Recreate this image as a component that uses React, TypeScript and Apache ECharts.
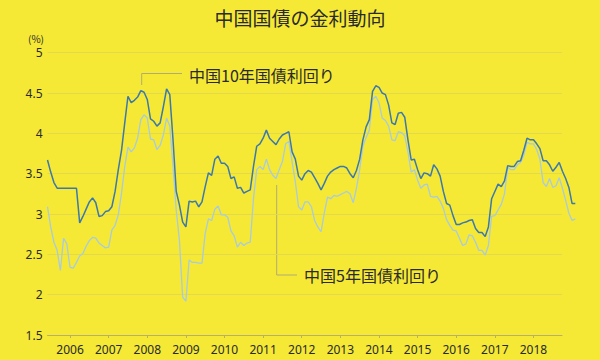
import React, { useEffect, useRef } from "react";
import * as echarts from "echarts";

// Monthly data, June 2005 .. February 2019
const START_YEAR = 2005;
const START_MONTH = 6; // June

const yield10y = [
  3.67, 3.52, 3.39, 3.32, 3.32, 3.32, 3.32, 3.32, 3.32, 3.32,
  2.89, 2.97, 3.06, 3.15, 3.20, 3.14, 2.97, 2.98, 3.03, 3.04,
  3.09, 3.28, 3.55, 3.79, 4.13, 4.46, 4.38, 4.41, 4.45, 4.53,
  4.51, 4.42, 4.18, 4.15, 4.09, 4.13, 4.33, 4.55, 4.48, 3.92,
  3.28, 3.11, 2.90, 2.84, 3.16, 3.15, 3.16, 3.09, 3.15, 3.34,
  3.51, 3.48, 3.68, 3.72, 3.63, 3.63, 3.59, 3.44, 3.46, 3.32,
  3.33, 3.26, 3.28, 3.30, 3.59, 3.84, 3.87, 3.94, 4.04, 3.94,
  3.90, 3.86, 3.93, 3.98, 4.00, 4.02, 3.77, 3.68, 3.47, 3.42,
  3.50, 3.54, 3.52, 3.45, 3.38, 3.30, 3.38, 3.47, 3.52, 3.55,
  3.57, 3.59, 3.59, 3.57, 3.50, 3.45, 3.54, 3.68, 3.92, 4.08,
  4.17, 4.52, 4.59, 4.57, 4.50, 4.48, 4.35, 4.13, 4.11, 4.25,
  4.26, 4.20, 3.92, 3.67, 3.68, 3.55, 3.44, 3.51, 3.50, 3.47,
  3.61, 3.56, 3.47, 3.28, 3.13, 3.11, 2.98, 2.87, 2.87, 2.89,
  2.90, 2.92, 2.93, 2.82, 2.77, 2.77, 2.72, 2.84, 3.19, 3.28,
  3.37, 3.34, 3.41, 3.60, 3.59, 3.59, 3.65, 3.66, 3.79, 3.94,
  3.92, 3.92, 3.87, 3.81, 3.66, 3.66, 3.61, 3.53, 3.58, 3.64,
  3.53, 3.44, 3.33, 3.13, 3.13,
];

const yield5y = [
  3.09, 2.84, 2.65, 2.55, 2.30, 2.70, 2.63, 2.34, 2.33, 2.40,
  2.48, 2.51, 2.60, 2.67, 2.71, 2.70, 2.64, 2.61, 2.58, 2.59,
  2.80, 2.86, 2.99, 3.26, 3.59, 3.83, 3.77, 3.82, 3.94, 4.17,
  4.23, 4.19, 3.93, 3.92, 3.80, 3.85, 3.98, 4.19, 4.09, 3.59,
  3.05, 2.67, 1.97, 1.92, 2.43, 2.40, 2.40, 2.39, 2.39, 2.76,
  2.94, 2.92, 3.06, 3.10, 2.99, 2.99, 2.96, 2.79, 2.73, 2.59,
  2.65, 2.61, 2.64, 2.65, 3.19, 3.55, 3.59, 3.55, 3.68, 3.55,
  3.48, 3.44, 3.55, 3.65, 3.87, 3.90, 3.65, 3.40, 3.09, 3.05,
  3.15, 3.15, 3.09, 2.92, 2.84, 2.78, 3.01, 3.21, 3.19, 3.23,
  3.22, 3.24, 3.26, 3.28, 3.25, 3.14, 3.32, 3.55, 3.84, 3.95,
  4.04, 4.42, 4.46, 4.38, 4.19, 4.16, 4.09, 3.92, 3.91, 4.02,
  4.01, 3.97, 3.77, 3.52, 3.55, 3.42, 3.32, 3.36, 3.37, 3.22,
  3.21, 3.22, 3.16, 3.07, 2.93, 2.86, 2.80, 2.79, 2.70, 2.61,
  2.63, 2.74, 2.73, 2.65, 2.55, 2.55, 2.49, 2.61, 2.97, 2.98,
  3.05, 3.12, 3.25, 3.58, 3.55, 3.55, 3.61, 3.64, 3.73, 3.89,
  3.87, 3.87, 3.80, 3.68, 3.39, 3.34, 3.44, 3.33, 3.35, 3.45,
  3.32, 3.17, 3.01, 2.92, 2.94,
];

const yearTicks = [2006, 2007, 2008, 2009, 2010, 2011, 2012, 2013, 2014, 2015, 2016, 2017, 2018];
const yTicks = [1.5, 2, 2.5, 3, 3.5, 4, 4.5, 5];

const TITLE = "中国国債の金利動向";
const LABEL_10Y = "中国10年国債利回り";
const LABEL_5Y = "中国5年国債利回り";
const UNIT = "(%)";

const BG = "#f5e935";
const C10 = "#3b78ae";
const C5 = "#a8cbe0";
const CJK = "'Noto Sans CJK JP', 'Noto Sans', sans-serif";

export default function App() {
  const ref = useRef<HTMLDivElement>(null);

  useEffect(() => {
    if (!ref.current) return;
    const chart = echarts.init(ref.current, undefined, { renderer: "svg" });
    const x0 = START_YEAR + (START_MONTH - 1) / 12;
    const toPts = (arr: number[]) => arr.map((v, i) => [x0 + i / 12, v]);
    const xLast = x0 + (yield10y.length - 1) / 12;
    const pxPerYear = 38.62;
    const left = 47.5;
    const gridRight0 = 562;
    const max0 = x0 + (gridRight0 - left) / pxPerYear;
    const right1 = 600 - (left + (xLast - x0) * pxPerYear);

    chart.setOption({
      animation: false,
      backgroundColor: BG,
      title: {
        text: TITLE,
        left: "center",
        top: 3,
        textStyle: { fontFamily: CJK, fontSize: 19, fontWeight: "normal", color: "#2a2a2a" },
      },
      grid: [
        { left, right: 600 - gridRight0, top: 52.7, bottom: 25 },
        { left, right: right1, top: 52.7, bottom: 25 },
      ],
      xAxis: [
        {
          type: "value",
          gridIndex: 0,
          min: x0,
          max: max0,
          splitLine: { show: false },
          axisLine: { show: true, lineStyle: { color: "#b9b068", width: 1 } },
          axisTick: {
            show: true,
            customValues: yearTicks,
            length: 3,
            lineStyle: { color: "#b9b068" },
          },
          axisLabel: {
            customValues: yearTicks,
            formatter: (v: number) => String(Math.round(v)),
            color: "#2a2a2a",
            fontSize: 12,
            fontFamily: "'Noto Sans', sans-serif",
            margin: 8,
          },
        },
        {
          type: "value",
          gridIndex: 1,
          min: x0,
          max: xLast,
          show: false,
          splitLine: { show: false },
        },
      ],
      yAxis: [
        {
          type: "value",
          gridIndex: 0,
          min: yTicks[0],
          max: yTicks[yTicks.length - 1],
          interval: 0.5,
          axisLine: { show: false },
          axisTick: { show: false },
          splitLine: { show: true, lineStyle: { color: "#e3d94c", width: 1 } },
          axisLabel: {
            color: "#2a2a2a",
            fontSize: 12,
            fontFamily: "'Noto Sans', sans-serif",
            margin: 5,
          },
        },
        {
          type: "value",
          gridIndex: 1,
          min: yTicks[0],
          max: yTicks[yTicks.length - 1],
          show: false,
          splitLine: { show: false },
        },
      ],
      series: [
        {
          name: LABEL_5Y,
          type: "line",
          xAxisIndex: 1,
          yAxisIndex: 1,
          data: toPts(yield5y),
          showSymbol: false,
          lineStyle: { color: C5, width: 1.3 },
          itemStyle: { color: C5 },
        },
        {
          name: LABEL_10Y,
          type: "line",
          xAxisIndex: 1,
          yAxisIndex: 1,
          data: toPts(yield10y),
          showSymbol: false,
          lineStyle: { color: C10, width: 1.5 },
          itemStyle: { color: C10 },
        },
      ],
      graphic: [
        {
          type: "text",
          x: 44,
          y: 38,
          style: {
            text: UNIT,
            align: "right",
            verticalAlign: "middle",
            fontSize: 10,
            fontFamily: CJK,
            fill: "#2a2a2a",
          },
        },
        {
          type: "polyline",
          shape: { points: [[141.7, 85], [141.7, 73.5], [182, 73.5]] },
          style: { stroke: "#b0aa78", lineWidth: 1, fill: null },
        },
        {
          type: "text",
          x: 189,
          y: 75,
          style: {
            text: LABEL_10Y,
            align: "left",
            verticalAlign: "middle",
            fontSize: 16,
            fontFamily: CJK,
            fill: "#2a2a2a",
          },
        },
        {
          type: "polyline",
          shape: { points: [[276.7, 185], [276.7, 275], [297, 275]] },
          style: { stroke: "#b0aa78", lineWidth: 1, fill: null },
        },
        {
          type: "text",
          x: 304,
          y: 275,
          style: {
            text: LABEL_5Y,
            align: "left",
            verticalAlign: "middle",
            fontSize: 16,
            fontFamily: CJK,
            fill: "#2a2a2a",
          },
        },
      ],
    });
    return () => chart.dispose();
  }, []);

  return (
    <div
      ref={ref}
      style={{ position: "absolute", left: 0, top: 0, width: 600, height: 360 }}
    />
  );
}
